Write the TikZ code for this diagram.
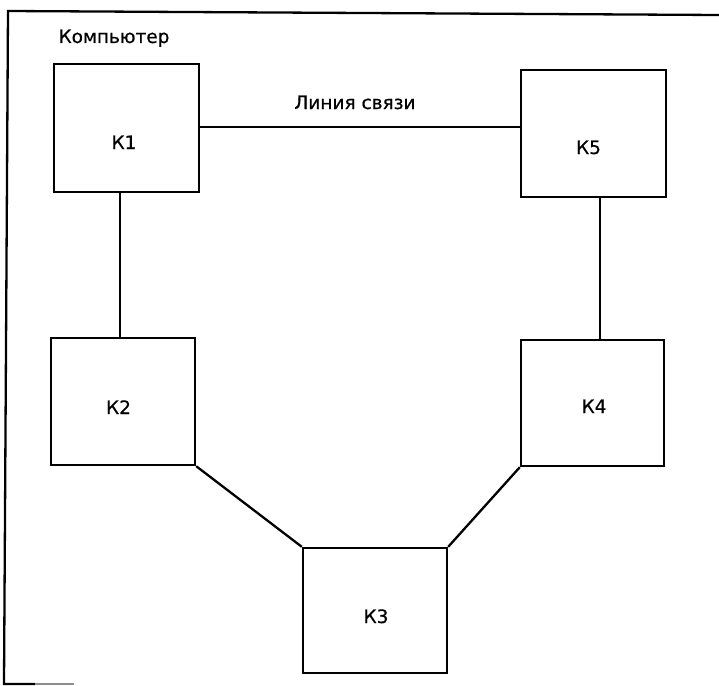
\documentclass[tikz,border=0pt]{standalone}
\usepackage{fontspec}
\setmainfont{DejaVu Sans}
\newfontfamily\capfont{DejaVu Sans}[FakeBold=0.6]
\usetikzlibrary{calc}
\begin{document}
\begin{tikzpicture}[x=1pt,y=-1pt,
  unit/.style={draw=black, line width=2.4pt, rectangle, inner sep=0pt},
  caption/.style={font=\capfont\fontsize{18.5}{20}\selectfont, inner sep=0pt, anchor=base},
  wire/.style={line width=2.3pt}]
\useasboundingbox (0,0) rectangle (719,685);

% enclosing computer frame (partly cut off at the page edges)
\coordinate (ftl) at (8,11);
\coordinate (ftr) at (719,15);
\coordinate (fbl) at (4,684);
\coordinate (fbm) at (35,684);
\coordinate (fbr) at (74,684);
\draw[wire] (ftr) -- (ftl) -- (fbl) -- (fbm);
\draw[wire, black!45] (fbm) -- (fbr);

\node[caption] (title) at (114,43) {Компьютер};

% network nodes
\node[unit, minimum width=145pt, minimum height=128pt] (k1) at (126.5,128) {};
\node[unit, minimum width=145pt, minimum height=127pt] (k5) at (593.5,133.5) {};
\node[unit, minimum width=144pt, minimum height=127pt] (k2) at (123,401.5) {};
\node[unit, minimum width=143pt, minimum height=126pt] (k4) at (592.5,403) {};
\node[unit, minimum width=144pt, minimum height=125pt] (k3) at (375,610.5) {};

\node[caption] (l1) at (124,149) {К1};
\node[caption] (l5) at (588.5,154) {К5};
\node[caption] (l2) at (118.5,414) {К2};
\node[caption] (l4) at (594,413) {К4};
\node[caption] (l3) at (376,623) {К3};

% communication links
\coordinate (k1top) at ($(k1.east)+(0,-1)$);
\draw[wire] (k1top) -- (k1top -| k5.west);
\node[caption] (link) at (355,109) {Линия связи};

\coordinate (k1b) at ($(k1.south west)!0.455!(k1.south east)$);
\draw[wire] (k1b) -- (k1b |- k2.north);

\coordinate (k5b) at ($(k5.south west)!0.545!(k5.south east)$);
\draw[wire] (k5b) -- (k5b |- k4.north);

\draw[wire] (k2.south east) -- (k3.north west);
\draw[wire] (k4.south west) -- (k3.north east);
\end{tikzpicture}
\end{document}
